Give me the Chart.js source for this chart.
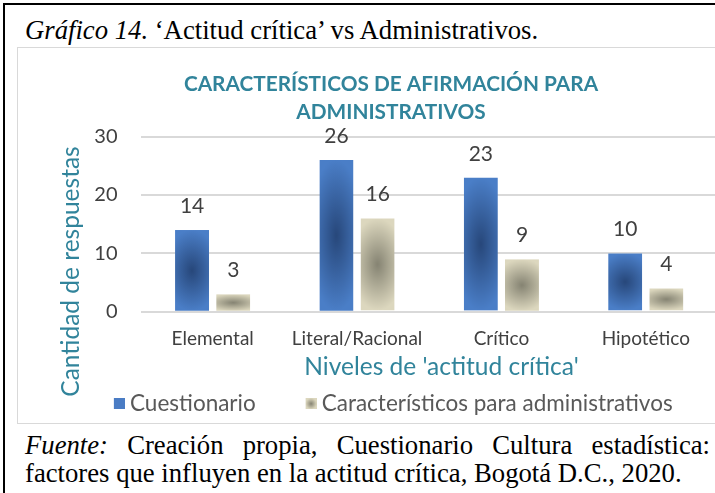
<!DOCTYPE html>
<html>
<head>
<meta charset="utf-8">
<script src="https://cdn.jsdelivr.net/npm/chart.js"></script>
<style>
  html, body { margin: 0; padding: 0; background: #fff; width: 715px; height: 493px; overflow: hidden; }
  #frame { position: absolute; left: 3px; top: 3px; width: 730px; height: 510px; border: 2px solid #000; box-sizing: border-box; }
  .serif { font-family: "Liberation Serif", "Times New Roman", serif; font-size: 26.7px; color: #000; }
  #caption { position: absolute; left: 25px; top: 15px; white-space: nowrap; }
  #box { position: absolute; left: 17px; top: 47px; width: 720px; height: 377px; border: 1.5px solid #d9d9d9; box-sizing: border-box; }
  #wrap { position: absolute; left: 0; top: 0; width: 700px; height: 377px; }
  #source { position: absolute; left: 25px; top: 431px; width: 685px; text-align: justify; text-align-last: left; line-height: 28px; }
</style>
</head>
<body>
<div id="frame"></div>
<div id="caption" class="serif"><i>Gráfico 14.</i> ‘Actitud crítica’ vs Administrativos.</div>
<div id="box"><div id="wrap"><canvas id="chart"></canvas></div></div>
<div id="source" class="serif"><i>Fuente:</i> Creación propia, Cuestionario Cultura estadística: factores que influyen en la actitud crítica, Bogotá D.C., 2020.</div>
<script>
// data
const categories = ['Elemental', 'Literal/Racional', 'Crítico', 'Hipotético'];
const cuestionario = [14, 26, 23, 10];
const administrativos = [3, 16, 9, 4];
const yTicks = [0, 10, 20, 30];

const FONT = 'Lato, "Open Sans", sans-serif';
const TEAL = '#31849b';

// bar fills: dark centre, lighter edges (like the Excel path gradient)
const fills = [
  { inner: '#27477a', outer: '#4a7ec7', flat: '#4a7cc4' },
  { inner: '#858372', outer: '#dcd7be', flat: '#bdb8a0' }
];

function paintGradient(o, w, h, f, stretch) {
  o.fillStyle = f.outer;
  o.fillRect(0, 0, w, h);
  o.save();
  o.translate(w / 2, h / 2);
  o.scale(w / 2 * stretch, h / 2);
  const g = o.createRadialGradient(0, 0, 0, 0, 0, 1);
  g.addColorStop(0, f.inner);
  g.addColorStop(1, f.outer);
  o.fillStyle = g;
  o.fillRect(-1, -1, 2, 2);
  o.restore();
}

function barPattern(ctx, el, f) {
  const w = Math.max(1, Math.round(el.width));
  const top = Math.min(el.y, el.base);
  const h = Math.max(1, Math.round(Math.abs(el.base - el.y)));
  const off = document.createElement('canvas');
  off.width = w; off.height = h;
  paintGradient(off.getContext('2d'), w, h, f, 1.6);
  const p = ctx.createPattern(off, 'no-repeat');
  p.setTransform(new DOMMatrix().translate(el.x - el.width / 2, top));
  return p;
}

// legend swatch: transparent lead-in, 11px square at the right end
const SWATCH_W = 46.75;
function swatch(f, gradient) {
  const c = document.createElement('canvas');
  c.width = 59; c.height = 11;
  const o = c.getContext('2d');
  o.translate(48, 0);
  if (gradient) paintGradient(o, 11, 11, f, 1.0);
  else { o.fillStyle = f.flat; o.fillRect(0, 0, 11, 11); }
  return c;
}
const swatches = [swatch(fills[0], false), swatch(fills[1], true)];

const gradientBars = {
  id: 'gradientBars',
  beforeDatasetsDraw(chart) {
    chart.data.datasets.forEach((ds, i) => {
      chart.getDatasetMeta(i).data.forEach(el => {
        el.options.backgroundColor = barPattern(chart.ctx, el, fills[i]);
      });
    });
  }
};

// value labels above bars
const valueLabels = {
  id: 'valueLabels',
  afterDatasetsDraw(chart) {
    const c = chart.ctx;
    c.save();
    c.font = '21px ' + FONT;
    c.fillStyle = '#404040';
    c.textAlign = 'center';
    c.textBaseline = 'alphabetic';
    chart.data.datasets.forEach((ds, i) => {
      chart.getDatasetMeta(i).data.forEach((el, j) => {
        c.fillText(ds.data[j], el.x, el.y - 17);
      });
    });
    c.restore();
  }
};

// axis titles, placed where the original has them
const axisTitles = {
  id: 'axisTitles',
  afterDraw(chart) {
    const c = chart.ctx;
    c.save();
    c.font = '24.5px ' + FONT;
    c.fillStyle = TEAL;
    c.textAlign = 'center';
    c.textBaseline = 'middle';
    c.fillText("Niveles de 'actitud crítica'", 423.5, 319.5);
    c.translate(53.5, 223.5);
    c.rotate(-Math.PI / 2);
    c.fillText('Cantidad de respuestas', 0, 0);
    c.restore();
  }
};

new Chart(document.getElementById('chart'), {
  type: 'bar',
  data: {
    labels: categories,
    datasets: [
      { label: 'Cuestionario', data: cuestionario,
        backgroundColor: () => fills[0].flat },
      { label: 'Característicos para administrativos', data: administrativos,
        backgroundColor: () => fills[1].flat }
    ]
  },
  options: {
    responsive: true,
    maintainAspectRatio: false,
    animation: false,
    categoryPercentage: 0.57,
    barPercentage: 0.83,
    layout: { padding: { left: 46, right: 0, top: 0, bottom: 0 } },
    plugins: {
      title: {
        display: true,
        text: ['CARACTERÍSTICOS DE AFIRMACIÓN PARA', 'ADMINISTRATIVOS'],
        color: TEAL,
        font: { family: FONT, size: 20.8, weight: 'bold', lineHeight: 1.35 },
        padding: { top: 22.5, bottom: 10 }
      },
      legend: {
        position: 'bottom',
        align: 'start',
        labels: {
          color: '#595959',
          font: { family: FONT, size: 22.5 },
          usePointStyle: true,
          pointStyleWidth: SWATCH_W,
          padding: 8,
          generateLabels(chart) {
            return Chart.defaults.plugins.legend.labels.generateLabels(chart)
              .map((item, i) => Object.assign(item, { pointStyle: swatches[i] }));
          }
        }
      },
      tooltip: { enabled: false }
    },
    scales: {
      x: {
        grid: { display: false, drawTicks: false },
        border: { display: false },
        ticks: { color: '#404040', font: { family: FONT, size: 19 }, padding: 16 },
        afterFit(scale) { scale.height += 18; }
      },
      y: {
        min: 0, max: 30,
        afterBuildTicks(axis) { axis.ticks = yTicks.map(v => ({ value: v })); },
        afterFit(scale) { scale.width = 76.5; },
        grid: { color: '#d9d9d9', lineWidth: 2, drawTicks: false },
        border: { display: false },
        ticks: { color: '#404040', font: { family: FONT, size: 20 }, padding: 23 }
      }
    }
  },
  plugins: [gradientBars, valueLabels, axisTitles]
});
</script>
</body>
</html>
